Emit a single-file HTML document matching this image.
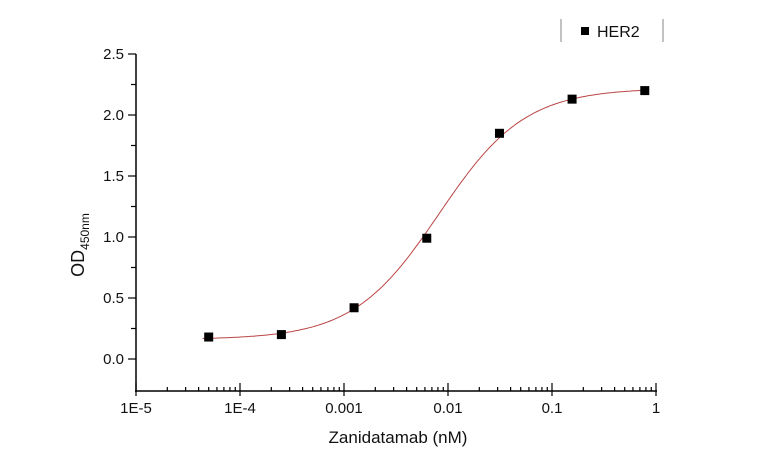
<!DOCTYPE html><html><head><style>body{margin:0;background:#fff}svg{font-family:"Liberation Sans",Arial,sans-serif}</style></head><body>
<svg id="s" width="762" height="468" xmlns="http://www.w3.org/2000/svg">
<g stroke="#000" stroke-width="1.5" fill="none">
<line x1="136" y1="54" x2="136" y2="392"/>
<line x1="135" y1="391" x2="657" y2="391"/>
</g>
<g id="ticks" stroke="#000" stroke-width="1.2"></g>
<g font-size="15" fill="#111" text-anchor="end">
<text x="124" y="59">2.5</text><text x="124" y="120">2.0</text><text x="124" y="181">1.5</text><text x="124" y="242">1.0</text><text x="124" y="303">0.5</text><text x="124" y="364">0.0</text>
</g>
<g font-size="15" fill="#111" text-anchor="middle">
<text x="136" y="413">1E-5</text><text x="240" y="413">1E-4</text><text x="344" y="413">0.001</text><text x="448" y="413">0.01</text><text x="552" y="413">0.1</text><text x="656" y="413">1</text>
</g>
<text x="398" y="443" font-size="17" text-anchor="middle" fill="#111">Zanidatamab (nM)</text>
<text transform="translate(84,245) rotate(-90)" font-size="18" text-anchor="middle" fill="#111">OD<tspan font-size="12" dy="5">450nm</tspan></text>
<path id="curve" fill="none" stroke="#b44" stroke-width="1"/>
<g id="pts" fill="#000"></g>
<g stroke="#999" stroke-width="1.2"><line x1="561" y1="19" x2="561" y2="42"/><line x1="663" y1="19" x2="663" y2="42"/></g>
<rect x="581" y="27" width="8" height="8" fill="#000"/>
<text x="597" y="37" font-size="16" fill="#111">HER2</text>
</svg>
<script>
var X=function(v){return 136+(Math.log10(v)+5)*104},Y=function(v){return 359-v*122};
var t='';
for(var i=0;i<=10;i++){var y=359-i*30.5;t+='<line x1="'+(i%2?131:128)+'" y1="'+y+'" x2="136" y2="'+y+'"/>';}
for(var d=-5;d<=0;d++){for(var k=1;k<=9;k++){if(d==0&&k>1)break;var x=X(k*Math.pow(10,d));t+='<line x1="'+x+'" y1="'+(k==1?383:387)+'" x2="'+x+'" y2="'+(k==1?396:391)+'"/>';}}
document.getElementById('ticks').innerHTML=t;
var p='';for(var j=0;j<=200;j++){var lx=-4.36+j*(4.26/200),v=Math.pow(10,lx);var y=0.16+(2.22-0.16)/(1+Math.pow(0.0082/v,1.05));p+=(j?'L':'M')+X(v).toFixed(1)+','+Y(y).toFixed(1);}
document.getElementById('curve').setAttribute('d',p);
var xs=[5e-5,2.5e-4,1.25e-3,6.25e-3,0.03125,0.156,0.78],ys=[0.18,0.2,0.42,0.99,1.85,2.13,2.2],q='';
for(var i=0;i<7;i++)q+='<rect x="'+(X(xs[i])-4.5)+'" y="'+(Y(ys[i])-4.5)+'" width="9" height="9"/>';
q+='<line x1="'+X(0.156)+'" y1="'+(Y(2.16))+'" x2="'+X(0.156)+'" y2="'+Y(2.1)+'" stroke="#000"/>';
document.getElementById('pts').innerHTML=q;
</script>
</body></html>
